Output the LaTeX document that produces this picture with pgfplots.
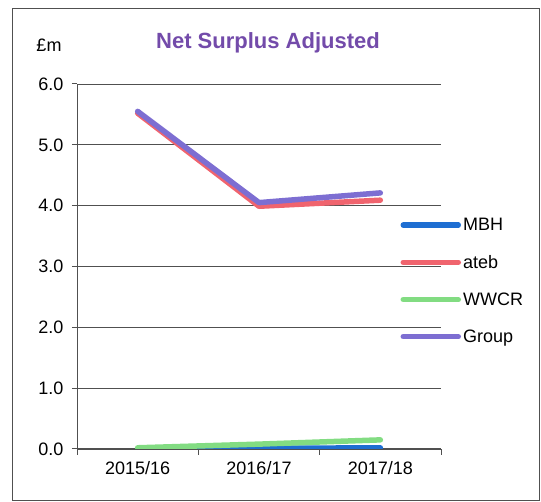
\documentclass[border=0pt]{standalone}
\usepackage{pgfplots}
\pgfplotsset{compat=1.18}
\usepackage{fontspec}
\setmainfont{Liberation Sans}

\definecolor{mbh}{RGB}{30,110,210}
\definecolor{ateb}{RGB}{240,100,110}
\definecolor{wwcr}{RGB}{130,220,130}
\definecolor{grp}{RGB}{125,110,210}
\definecolor{ttl}{RGB}{115,75,170}
\definecolor{gridc}{RGB}{80,80,80}

\pgfplotsset{/pgf/number format/assume math mode=true}

\begin{document}
\begin{tikzpicture}[x=1pt,y=1pt]
\useasboundingbox (0,0) rectangle (541,502);
\draw[gridc, line width=0.8pt] (12,2) rectangle (539,494);
\node[font=\fontsize{22}{24}\selectfont\bfseries, text=ttl] at (268,459) {Net Surplus Adjusted};
\node[font=\fontsize{18}{20}\selectfont] at (49,457) {£m};

\begin{axis}[
    at={(77pt,53pt)}, anchor=south west,
    scale only axis,
    width=364pt, height=365pt,
    xmin=-0.5, xmax=2.5,
    ymin=0, ymax=6,
    axis x line*=bottom, axis y line*=left,
    axis line style={gridc, line width=1pt},
    xtick={0,1,2},
    xticklabels={2015/16,2016/17,2017/18},
    minor xtick={-0.5,0.5,1.5,2.5},
    major x tick style={draw=none},
    minor x tick style={gridc, line width=1pt},
    ytick={0,1,2,3,4,5,6},
    y tick style={gridc, line width=1pt},
    y tick label style={xshift=-5pt, /pgf/number format/.cd, fixed, fixed zerofill, precision=1},
    x tick label style={yshift=-4pt},
    tick label style={font=\fontsize{18}{20}\selectfont},
    ymajorgrids,
    grid style={gridc, line width=0.9pt},
    tick align=outside,
    major tick length=5pt, minor tick length=6pt,
    legend style={draw=none, fill=none, anchor=north west, at={(0.88,0.644)},
        font=\fontsize{18}{20}\selectfont, row sep=19pt},
    legend cell align=left,
    legend image code/.code={\draw[#1] (0pt,0pt) -- (55pt,0pt);},
    every axis plot/.append style={line width=5.5pt, line cap=round, line join=round},
]

% MBH
\addplot[mbh] coordinates {(0,0.00) (1,0.01) (2,0.02)};
% ateb
\addplot[ateb] coordinates {(0,5.52) (1,3.99) (2,4.09)};
% WWCR
\addplot[wwcr] coordinates {(0,0.02) (1,0.08) (2,0.15)};
% Group
\addplot[grp] coordinates {(0,5.55) (1,4.05) (2,4.21)};

\legend{MBH, ateb, WWCR, Group}
\end{axis}
\end{tikzpicture}
\end{document}
